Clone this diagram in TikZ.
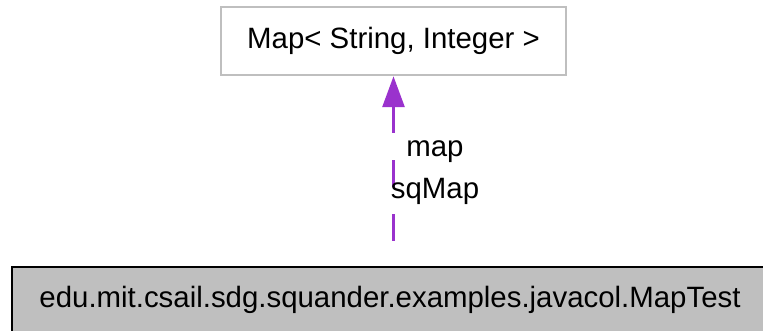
\documentclass[tikz,border=0pt]{standalone}
\usepackage{fontspec}
\setmainfont{Liberation Sans}
\usetikzlibrary{arrows.meta}
\definecolor{edgepurple}{HTML}{9A32CD}
\definecolor{boxgray}{HTML}{BFBFBF}
\begin{document}
\begin{tikzpicture}[x=1pt,y=-1pt,
  txt/.style={font=\fontsize{29.4}{34}\selectfont},
  classbox/.style={txt,draw=boxgray,line width=2.5pt,fill=white,inner sep=0pt,
    minimum width=345pt,minimum height=68pt},
  mainbox/.style={txt,draw=black,line width=2pt,fill=boxgray,inner sep=0pt,
    text height=21pt,text depth=16pt,
    minimum width=757pt,minimum height=75pt},
  uses/.style={draw=edgepurple,line width=3pt,dash pattern=on 27pt off 27pt,dash phase=29pt,
    -{Triangle[length=31pt,width=22pt,fill=edgepurple]}},
  lbl/.style={txt,anchor=base,inner sep=0pt}]
\useasboundingbox (0,0) rectangle (763,331);
\node[classbox] (map) at (393.5,41) {Map< String, Integer >};
\node[mainbox] (test) at (390,304.5) {edu.mit.csail.sdg.squander.examples.javacol.MapTest};
\draw[uses] (map.south |- test.north) -- (map.south);
\node[lbl] (l1) at (435,157) {map};
\node[lbl] (l2) at (435,199) {sqMap};
\end{tikzpicture}
\end{document}
